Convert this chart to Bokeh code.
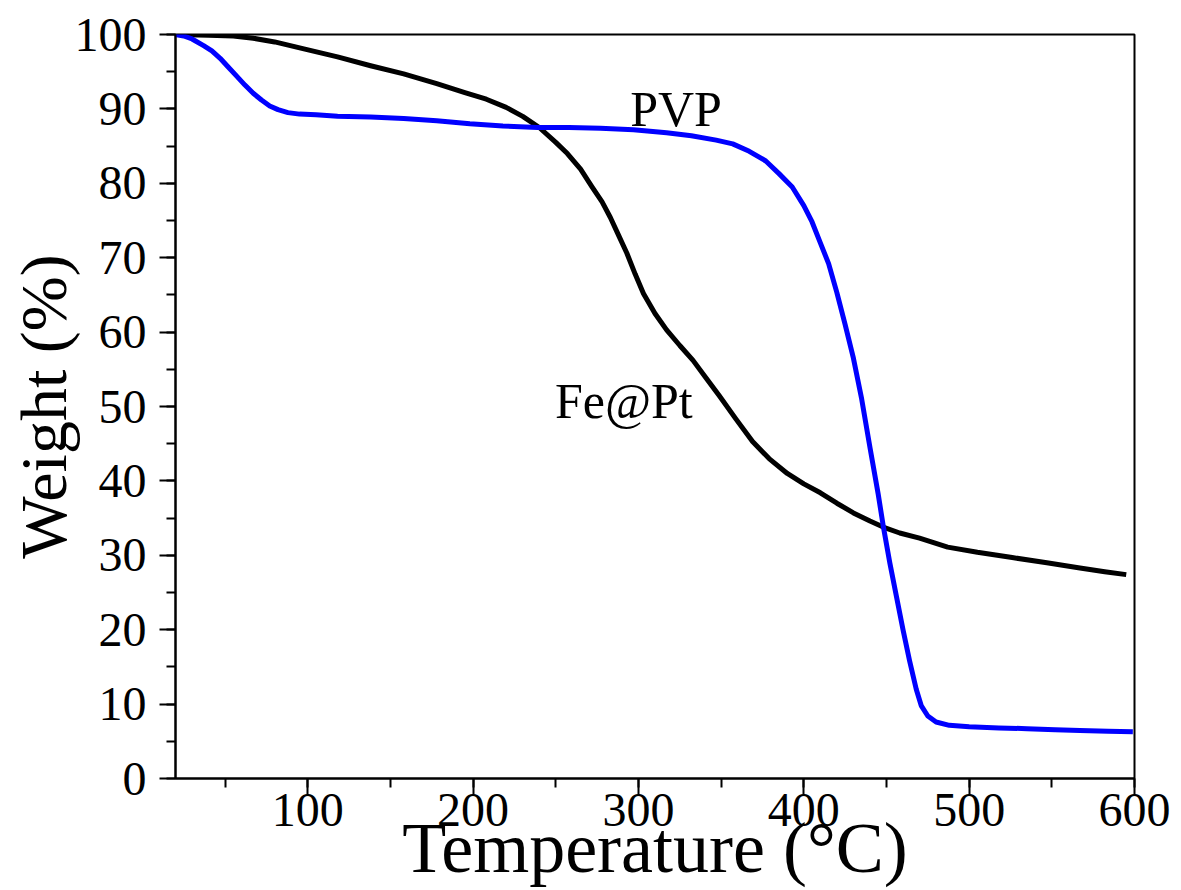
from bokeh.plotting import figure
from bokeh.models import Range1d, SingleIntervalTicker, Label
from bokeh.embed import file_html
from bokeh.resources import INLINE

# Fe@Pt (black)
fept_temp = [20, 40, 55, 67, 80, 97, 118, 138, 158, 178, 195, 208, 220, 230, 240, 250, 257,
             265, 272, 278, 283, 288, 293, 298, 303, 310, 317, 325, 333, 341, 349, 359, 369,
             379, 390, 400, 410, 420, 430, 440, 448, 458, 470, 487, 505, 526, 547, 567, 582, 595]
fept_weight = [100, 99.9, 99.8, 99.5, 99.0, 98.1, 97.0, 95.8, 94.7, 93.4, 92.2, 91.3, 90.2,
               89.0, 87.5, 85.5, 84.0, 81.9, 79.5, 77.5, 75.4, 73.0, 70.6, 67.8, 65.2, 62.5,
               60.3, 58.2, 56.2, 53.8, 51.4, 48.3, 45.3, 43.0, 41.0, 39.6, 38.4, 37.0, 35.7,
               34.6, 33.8, 33.0, 32.3, 31.1, 30.4, 29.7, 29.0, 28.3, 27.8, 27.4]

# PVP (blue)
pvp_temp = [20, 25, 30, 37, 42, 47, 52, 57, 62, 67, 72, 77, 82, 88, 95, 105, 118, 138, 158,
            178, 198, 218, 239, 258, 277, 297, 317, 332, 347, 357, 367, 377, 385, 393, 400,
            405, 410, 415, 420, 425, 430, 435, 440, 445, 448, 452, 456, 460, 464, 468, 471,
            475, 480, 488, 500, 518, 535, 552, 567, 584, 599]
pvp_weight = [100, 99.8, 99.4, 98.5, 97.8, 96.8, 95.6, 94.4, 93.2, 92.1, 91.2, 90.4, 89.9,
              89.5, 89.3, 89.2, 89.0, 88.9, 88.7, 88.4, 88.0, 87.7, 87.5, 87.5, 87.4, 87.2,
              86.8, 86.4, 85.8, 85.3, 84.3, 83.0, 81.3, 79.5, 77.0, 74.8, 72.0, 69.2, 65.3,
              61.0, 56.5, 51.0, 44.5, 38.2, 34.0, 29.0, 24.5, 20.0, 15.8, 12.0, 9.8, 8.4, 7.6,
              7.15, 6.95, 6.8, 6.7, 6.55, 6.45, 6.35, 6.3]

labels = ["PVP", "Fe@Pt"]
label_x = [295, 249.5]
label_y = [90.0, 50.8]

FONT = "Liberation Serif"

p = figure(width=1175, height=890, x_range=Range1d(20, 600), y_range=Range1d(0, 100),
           output_backend="svg", toolbar_location=None,
           min_border_left=175, min_border_right=41, min_border_top=34, min_border_bottom=111)

p.grid.visible = False
p.outline_line_color = "black"
p.outline_line_width = 2
p.background_fill_color = "white"
p.border_fill_color = "white"

p.line(fept_temp, fept_weight, line_color="black", line_width=5, line_join="round")
p.line(pvp_temp, pvp_weight, line_color="#0000ff", line_width=5, line_join="round")

for t, x, y in zip(labels, label_x, label_y):
    p.add_layout(Label(x=x, y=y, text=t, text_font=FONT, text_font_size="50px",
                       text_color="black", text_baseline="alphabetic", text_align="left"))

xa = p.xaxis[0]
xa.ticker = SingleIntervalTicker(interval=100, num_minor_ticks=2)
xa.axis_label = "Temperature (°C)"
ya = p.yaxis[0]
ya.ticker = SingleIntervalTicker(interval=10, num_minor_ticks=2)
ya.axis_label = "Weight (%)"

for ax in (xa, ya):
    ax.axis_line_color = "black"
    ax.axis_line_width = 2
    ax.major_tick_line_color = "black"
    ax.major_tick_line_width = 2
    ax.minor_tick_line_color = "black"
    ax.minor_tick_line_width = 2
    ax.major_tick_in = 0
    ax.major_tick_out = 16
    ax.minor_tick_in = 0
    ax.minor_tick_out = 9
    ax.major_label_text_font = FONT
    ax.major_label_text_font_size = "48px"
    ax.major_label_text_color = "black"
    ax.axis_label_text_font = FONT
    ax.axis_label_text_font_style = "normal"
    ax.axis_label_text_color = "black"

xa.axis_label_text_font_size = "72px"
xa.major_label_standoff = -1
xa.axis_label_standoff = -21
ya.axis_label_text_font_size = "66px"
ya.major_label_standoff = 13
ya.axis_label_standoff = -8

open("out.html", "w").write(file_html(p, INLINE))
